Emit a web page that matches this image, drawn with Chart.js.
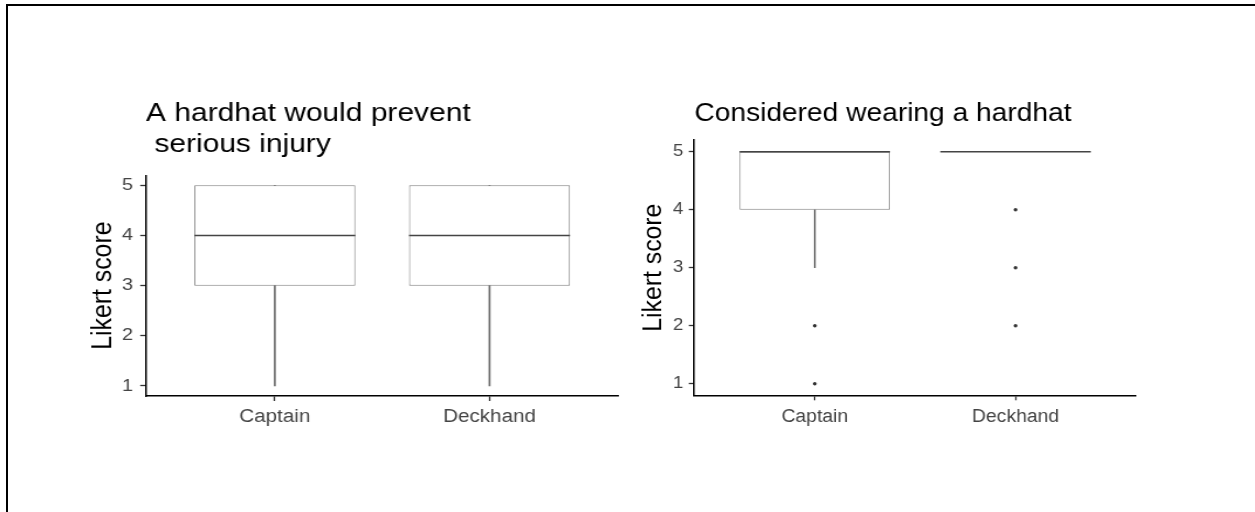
<!DOCTYPE html>
<html>
<head>
<meta charset="utf-8">
<script src="https://cdn.jsdelivr.net/npm/chart.js@4.4.1/dist/chart.umd.min.js"></script>
<style>
  html, body { margin: 0; padding: 0; background: #fff; overflow: hidden; }
  #frame { position: absolute; left: 6px; top: 4px; width: 1260px; height: 520px; border-top: 2px solid #000; border-left: 2px solid #000; }
  /* the two panels of the source picture are stretched horizontally by slightly different amounts */
  .panel { position: absolute; top: 0; height: 512px; transform-origin: 0 0; }
  #injuryPanel { left: 0; width: 540px; transform: scaleX(1.17); }
  #wearPanel { left: 616px; width: 581px; transform: scaleX(1.1); }
</style>
</head>
<body>
<div id="frame"></div>
<div class="panel" id="injuryPanel"><canvas id="injuryChart"></canvas></div>
<div class="panel" id="wearPanel"><canvas id="wearChart"></canvas></div>
<script>
var roles = ['Captain', 'Deckhand'];
var likertTicks = [1, 2, 3, 4, 5];

// A hardhat would prevent serious injury
var injuryLow = [1, 1];
var injuryQ1 = [3, 3];
var injuryMedian = [4, 4];
var injuryQ3 = [5, 5];
var injuryHigh = [5, 5];
var injuryOutliers = [[], []];

// Considered wearing a hardhat
var wearLow = [3, 5];
var wearQ1 = [4, 5];
var wearMedian = [5, 5];
var wearQ3 = [5, 5];
var wearHigh = [5, 5];
var wearOutliers = [[2, 1], [4, 3, 2]];

Chart.defaults.font.family = '"Liberation Sans", Arial, sans-serif';

var medianPlugin = {
    id: 'boxMedian',
    afterDatasetsDraw: function (chart, args, opts) {
        var meta = chart.getDatasetMeta(opts.boxDataset);
        var yScale = chart.scales.y;
        var ctx = chart.ctx;
        ctx.save();
        ctx.strokeStyle = opts.color;
        ctx.lineWidth = opts.width;
        meta.data.forEach(function (bar, i) {
            var p = bar.getProps(['x', 'width'], true);
            var y = yScale.getPixelForValue(opts.values[i]);
            ctx.beginPath();
            ctx.moveTo(p.x - p.width / 2, y);
            ctx.lineTo(p.x + p.width / 2, y);
            ctx.stroke();
        });
        ctx.restore();
    }
};

function pairs(a, b) {
    return roles.map(function (r, i) {
        return { x: i + 1, y: [a[i], b[i]] };
    });
}

function drawBoxChart(canvasId, s) {
    var points = [];
    s.outliers.forEach(function (list, i) {
        list.forEach(function (v) {
            points.push({ x: i + 1, y: v });
        });
    });

    var whisker = { backgroundColor: '#6e6e6e', borderWidth: 0, barThickness: 1, grouped: false };

    return new Chart(document.getElementById(canvasId), {
        type: 'bar',
        data: {
            datasets: [
                Object.assign({ data: pairs(s.low, s.q1) }, whisker),
                Object.assign({ data: pairs(s.q3, s.high) }, whisker),
                {
                    data: pairs(s.q1, s.q3),
                    backgroundColor: '#fff',
                    borderColor: '#808080',
                    borderWidth: 1,
                    borderSkipped: false,
                    grouped: false,
                    barPercentage: 0.75,
                    categoryPercentage: 1
                },
                {
                    type: 'scatter',
                    data: points,
                    pointRadius: 1.7,
                    pointBackgroundColor: '#333',
                    pointBorderWidth: 0
                }
            ]
        },
        options: {
            responsive: true,
            maintainAspectRatio: false,
            animation: false,
            layout: { padding: s.padding },
            plugins: {
                legend: { display: false },
                tooltip: { enabled: false },
                title: {
                    display: true,
                    text: s.title,
                    align: 'start',
                    fullSize: false,
                    color: '#000',
                    font: { size: 25.6, weight: 'normal', lineHeight: 1.22 },
                    padding: { top: 0, bottom: s.titleGap }
                },
                boxMedian: { boxDataset: 2, values: s.median, color: '#444', width: 1.5 }
            },
            scales: {
                x: {
                    type: 'linear',
                    min: 0.4,
                    max: 2.6,
                    offset: false,
                    grid: { offset: false, drawOnChartArea: false, tickLength: 5, tickColor: '#333', tickWidth: 1.3 },
                    border: { color: '#000', width: 1.5 },
                    afterBuildTicks: function (scale) {
                        scale.ticks = roles.map(function (r, i) { return { value: i + 1 }; });
                    },
                    afterFit: function (scale) { scale.height = 40; },
                    ticks: {
                        callback: function (v) { return roles[v - 1]; },
                        color: '#444',
                        font: { size: 17.6 },
                        padding: 6,
                        maxRotation: 0,
                        autoSkip: false
                    }
                },
                y: {
                    min: 0.8,
                    max: 5.2,
                    beginAtZero: false,
                    grid: { drawOnChartArea: false, tickLength: 5, tickColor: '#333', tickWidth: 1.3 },
                    border: { color: '#000', width: 1.5 },
                    afterBuildTicks: function (scale) {
                        scale.ticks = likertTicks.map(function (v) { return { value: v }; });
                    },
                    afterFit: function (scale) { scale.width = s.axisWidth; },
                    title: {
                        display: true,
                        text: 'Likert score',
                        color: '#000',
                        font: { size: 24.8 },
                        padding: { top: 4, bottom: 4 }
                    },
                    ticks: { color: '#444', font: { size: 17 }, padding: s.tickPad }
                }
            }
        },
        plugins: [medianPlugin]
    });
}

drawBoxChart('injuryChart', {
    title: ['A hardhat would prevent', ' serious injury'],
    low: injuryLow, q1: injuryQ1, median: injuryMedian, q3: injuryQ3, high: injuryHigh,
    outliers: injuryOutliers,
    padding: { top: 98, left: 69.3, right: 11.5, bottom: 76 },
    titleGap: 14.8,
    axisWidth: 55.5,
    tickPad: 6
});

drawBoxChart('wearChart', {
    title: 'Considered wearing a hardhat',
    low: wearLow, q1: wearQ1, median: wearMedian, q3: wearQ3, high: wearHigh,
    outliers: wearOutliers,
    padding: { top: 98, left: 15.5, right: 108.3, bottom: 76.7 },
    titleGap: 10.9,
    axisWidth: 55.7,
    tickPad: 5
});
</script>
</body>
</html>
